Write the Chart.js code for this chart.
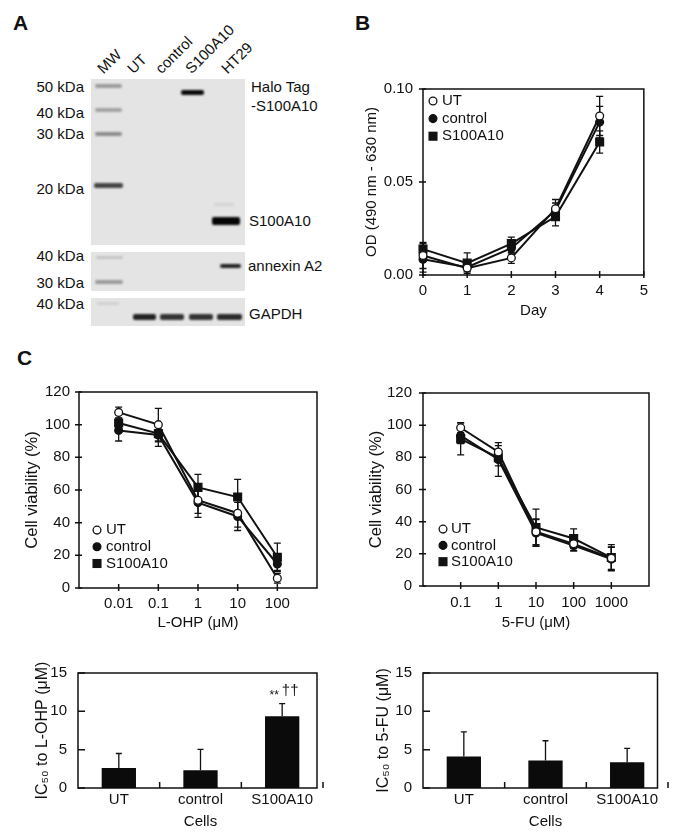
<!DOCTYPE html>
<html>
<head>
<meta charset="utf-8">
<script src="https://cdn.jsdelivr.net/npm/chart.js@4.4.1/dist/chart.umd.min.js"></script>
<style>
  body { margin: 0; background: #fff; }
  #fig { position: relative; width: 685px; height: 839px; overflow: hidden; font-family: 'Liberation Sans', Arial, sans-serif; color: #111; }
  #fig canvas { position: absolute; }
  .panel { position: absolute; font-size: 21px; line-height: 21px; font-weight: bold; }
  .lbl { position: absolute; font-size: 15px; line-height: 18px; white-space: nowrap; }
  .kda { position: absolute; left: 14px; width: 70px; text-align: right; font-size: 15px; line-height: 18px; white-space: nowrap; }
  .lane { position: absolute; font-size: 15px; line-height: 15px; white-space: nowrap; transform: rotate(-45deg); transform-origin: 0 100%; }
  .blot { position: absolute; left: 91px; width: 154px; background: #e4e4e4; }
  .band { position: absolute; border-radius: 2px; filter: blur(0.9px); }
</style>
</head>
<body>
<div id="fig">
  <div class="panel" style="left:13px;top:12px">A</div>
  <div class="panel" style="left:355px;top:12px">B</div>
  <div class="panel" style="left:17px;top:347px">C</div>

  <!-- western blot -->
  <div class="lane" style="left:105px;top:61px">MW</div>
  <div class="lane" style="left:135px;top:61px">UT</div>
  <div class="lane" style="left:163px;top:61px">control</div>
  <div class="lane" style="left:193px;top:61px">S100A10</div>
  <div class="lane" style="left:229px;top:61px">HT29</div>

  <div class="blot" style="top:79px;height:166px"></div>
  <div class="blot" style="top:252px;height:39px"></div>
  <div class="blot" style="top:298px;height:28px"></div>

  <div class="band" style="left:95px;top:84px;width:27px;height:4px;background:#9a9a9a"></div>
  <div class="band" style="left:95px;top:108px;width:27px;height:4px;background:#a2a2a2"></div>
  <div class="band" style="left:95px;top:132px;width:27px;height:4px;background:#8c8c8c"></div>
  <div class="band" style="left:94px;top:183px;width:29px;height:5px;background:#444"></div>
  <div class="band" style="left:181px;top:90px;width:23px;height:5px;background:#0a0a0a"></div>
  <div class="band" style="left:214px;top:203px;width:20px;height:3px;background:#d2d2d2"></div>
  <div class="band" style="left:212px;top:217px;width:28px;height:8px;background:#050505"></div>
  <div class="band" style="left:96px;top:256px;width:27px;height:3px;background:#c4c4c4"></div>
  <div class="band" style="left:95px;top:280px;width:28px;height:4px;background:#999"></div>
  <div class="band" style="left:220px;top:264px;width:21px;height:4px;background:#222"></div>
  <div class="band" style="left:97px;top:302px;width:22px;height:3px;background:#d0d0d0"></div>
  <div class="band" style="left:133px;top:314px;width:23px;height:6px;background:#222"></div>
  <div class="band" style="left:160px;top:314px;width:24px;height:6px;background:#333"></div>
  <div class="band" style="left:189px;top:314px;width:24px;height:6px;background:#333"></div>
  <div class="band" style="left:217px;top:314px;width:25px;height:6px;background:#2a2a2a"></div>

  <div class="kda" style="top:78px">50 kDa</div>
  <div class="kda" style="top:104px">40 kDa</div>
  <div class="kda" style="top:125px">30 kDa</div>
  <div class="kda" style="top:180px">20 kDa</div>
  <div class="kda" style="top:247px">40 kDa</div>
  <div class="kda" style="top:274px">30 kDa</div>
  <div class="kda" style="top:295px">40 kDa</div>

  <div class="lbl" style="left:251px;top:78px">Halo Tag</div>
  <div class="lbl" style="left:251px;top:97px">-S100A10</div>
  <div class="lbl" style="left:249px;top:212px">S100A10</div>
  <div class="lbl" style="left:248px;top:257px">annexin A2</div>
  <div class="lbl" style="left:249px;top:305px">GAPDH</div>

  <canvas id="chartB" width="295" height="255" style="left:360px;top:70px"></canvas>
  <canvas id="chartLohp" width="307" height="264" style="left:20px;top:374px"></canvas>
  <canvas id="chartFu" width="294" height="263" style="left:365px;top:373px"></canvas>
  <canvas id="barLohp" width="308" height="185" style="left:25px;top:653px"></canvas>
  <canvas id="barFu" width="308" height="185" style="left:370px;top:653px"></canvas>
</div>

<script>
// ---- data ----
const seriesNames = ['UT', 'control', 'S100A10'];

// B: growth (OD 490 nm - 630 nm)
const days = [0, 1, 2, 3, 4];
const dayTicks = [0, 1, 2, 3, 4, 5];
const dayLabels = ['0', '1', '2', '3', '4', '5'];
const odTicks = [0, 0.05, 0.1];
const odLabels = ['0.00', '0.05', '0.10'];
const odUT = [0.0105, 0.0037, 0.0092, 0.0356, 0.0855];
const odUTErr = [0.007, 0.002, 0.003, 0.005, 0.0105];
const odCtl = [0.0085, 0.0042, 0.0144, 0.0347, 0.0822];
const odCtlErr = [0.007, 0.002, 0.003, 0.004, 0.0085];
const odS100 = [0.0139, 0.0064, 0.0169, 0.0314, 0.0715];
const odS100Err = [0.003, 0.0055, 0.0035, 0.005, 0.006];

// C: viability
const viabTicks = [0, 20, 40, 60, 80, 100, 120];
const viabLabels = ['0', '20', '40', '60', '80', '100', '120'];

const lohpConc = [0.01, 0.1, 1, 10, 100];
const lohpLabels = ['0.01', '0.1', '1', '10', '100'];
const lohpUT = [107.5, 100, 53.7, 45.8, 6];
const lohpUTErr = [3.3, 10, 8, 8.5, 3];
const lohpCtl = [96.5, 93.7, 52.3, 43.8, 14.7];
const lohpCtlErr = [6.5, 7, 9, 8.6, 4];
const lohpS100 = [101, 94.5, 61.6, 55.7, 18.8];
const lohpS100Err = [3, 5, 8, 10.8, 8.7];

const fuConc = [0.1, 1, 10, 100, 1000];
const fuLabels = ['0.1', '1', '10', '100', '1000'];
const fuUT = [98.4, 83.3, 33.7, 26.2, 17.3];
const fuUTErr = [3, 4, 8, 4, 7];
const fuCtl = [93.5, 78.7, 33, 25.2, 16.7];
const fuCtlErr = [5, 10.5, 8.3, 3.5, 7.3];
const fuS100 = [91.5, 79.7, 36.4, 29.5, 17.7];
const fuS100Err = [10, 5, 11.4, 6, 8];

// C: IC50
const cells = ['UT', 'control', 'S100A10'];
const icTicks = [0, 5, 10, 15];
const icLabels = ['0', '5', '10', '15'];
const icLohp = [2.6, 2.3, 9.35];
const icLohpErr = [1.9, 2.75, 1.65];
const icFu = [4.12, 3.6, 3.36];
const icFuErr = [3.2, 2.56, 1.8];
const sigMarks = ['**', '††'];

// ---- look ----
const INK = '#111';
const FONT = "'Liberation Sans', Arial, sans-serif";
Chart.defaults.font.family = FONT;
Chart.defaults.font.size = 15;
Chart.defaults.color = INK;

const MARKERS = [
  { pointStyle: 'circle', pointRadius: 3.9, pointBackgroundColor: '#fff' },
  { pointStyle: 'circle', pointRadius: 3.9, pointBackgroundColor: INK },
  { pointStyle: 'rect', pointRadius: 5.5, pointBackgroundColor: INK },
];

function series(xs, ys, errs, i) {
  return Object.assign({
    label: seriesNames[i],
    data: xs.map((x, j) => ({ x: x, y: ys[j] })),
    errors: errs,
    borderColor: INK,
    borderWidth: 2,
    pointBorderColor: INK,
    pointBorderWidth: 1.3,
    tension: 0,
    clip: false,
  }, MARKERS[i]);
}

function xAxis(type, min, max, vals, labels, title, tickPad, titlePad) {
  const s = {
    type: type,
    afterFit: (sc) => { sc.height = 50; },
    grid: { display: false, drawTicks: false },
    border: { display: false },
    ticks: { padding: tickPad, maxRotation: 0, autoSkip: false, color: INK, font: { size: 15 } },
    title: { display: true, text: title, color: INK, font: { size: 15 }, padding: { top: 0, bottom: titlePad } },
  };
  if (vals) {
    s.min = min;
    s.max = max;
    s.offset = false;
    s.afterBuildTicks = (sc) => { sc.ticks = vals.map((v) => ({ value: v })); };
    s.ticks.callback = (v, i) => labels[i];
  }
  return s;
}

function yAxis(max, vals, labels, title, titleSize, width, titlePad, tickPad) {
  return {
    min: 0,
    max: max,
    afterBuildTicks: (sc) => { sc.ticks = vals.map((v) => ({ value: v })); },
    afterFit: (sc) => { sc.width = width; },
    grid: { display: false, drawTicks: false },
    border: { display: false },
    ticks: { callback: (v, i) => labels[i], padding: tickPad, color: INK, font: { size: 15 } },
    title: { display: true, text: title, color: INK, font: { size: titleSize }, padding: { top: titlePad, bottom: 0 } },
  };
}

// box round the plot plus tick marks
const framePlugin = {
  id: 'frame',
  beforeDatasetsDraw(chart, args, o) {
    const { ctx, chartArea: a, scales: { x, y } } = chart;
    ctx.save();
    ctx.strokeStyle = INK;
    ctx.lineWidth = 1.5;
    ctx.strokeRect(a.left, a.top, a.right - a.left - (o.inset || 0), a.bottom - a.top);
    ctx.beginPath();
    y.ticks.forEach((t) => {
      const py = y.getPixelForValue(t.value);
      ctx.moveTo(a.left - o.yOut, py);
      ctx.lineTo(a.left + o.yIn, py);
    });
    x.ticks.forEach((t, i) => {
      const px = o.between ? x.getPixelForValue(i + 0.5) : x.getPixelForValue(t.value);
      ctx.moveTo(px, a.bottom + o.xOut);
      ctx.lineTo(px, a.bottom - o.xIn);
    });
    ctx.stroke();
    ctx.restore();
  },
};

const errorBarPlugin = {
  id: 'errorBars',
  beforeDatasetsDraw(chart, args, o) {
    const { ctx, scales: { y } } = chart;
    ctx.save();
    ctx.strokeStyle = INK;
    ctx.lineWidth = 1.3;
    chart.data.datasets.forEach((ds, i) => {
      if (!ds.errors) return;
      chart.getDatasetMeta(i).data.forEach((el, j) => {
        const raw = ds.data[j];
        const v = typeof raw === 'object' ? raw.y : raw;
        const e = ds.errors[j];
        const top = y.getPixelForValue(v + e);
        const bot = y.getPixelForValue(o.upOnly ? v : v - e);
        ctx.beginPath();
        ctx.moveTo(el.x, top);
        ctx.lineTo(el.x, bot);
        ctx.moveTo(el.x - o.cap, top);
        ctx.lineTo(el.x + o.cap, top);
        if (!o.upOnly) {
          ctx.moveTo(el.x - o.cap, bot);
          ctx.lineTo(el.x + o.cap, bot);
        }
        ctx.stroke();
      });
    });
    ctx.restore();
  },
};

// legend drawn inside the plot area
const keyPlugin = {
  id: 'seriesKey',
  afterDraw(chart, args, o) {
    const { ctx, chartArea: a } = chart;
    const list = chart.data.datasets;
    ctx.save();
    ctx.font = '15px ' + FONT;
    ctx.textBaseline = 'middle';
    list.forEach((ds, i) => {
      const cy = o.top != null ? a.top + o.top + i * o.step : a.bottom - o.bottom - (list.length - 1 - i) * o.step;
      const cx = a.left + o.mark;
      ctx.fillStyle = ds.pointBackgroundColor;
      ctx.strokeStyle = INK;
      ctx.lineWidth = 1.3;
      if (ds.pointStyle === 'rect') {
        const h = ds.pointRadius * Math.SQRT1_2;
        ctx.fillRect(cx - h, cy - h, 2 * h, 2 * h);
        ctx.strokeRect(cx - h, cy - h, 2 * h, 2 * h);
      } else {
        ctx.beginPath();
        ctx.arc(cx, cy, ds.pointRadius, 0, Math.PI * 2);
        ctx.fill();
        ctx.stroke();
      }
      ctx.fillStyle = INK;
      ctx.fillText(ds.label, a.left + o.text, cy);
    });
    ctx.restore();
  },
};

const sigPlugin = {
  id: 'sig',
  afterDatasetsDraw(chart, args, o) {
    if (!o.marks) return;
    const { ctx, scales: { y } } = chart;
    const ds = chart.data.datasets[0];
    const el = chart.getDatasetMeta(0).data[o.index];
    const top = y.getPixelForValue(ds.data[o.index] + ds.errors[o.index]);
    ctx.save();
    ctx.fillStyle = INK;
    ctx.textAlign = 'center';
    ctx.textBaseline = 'alphabetic';
    o.marks.forEach((m, k) => {
      ctx.font = o.sizes[k] + 'px ' + FONT;
      ctx.fillText(m, el.x + o.dx[k], top + o.dy[k]);
    });
    ctx.restore();
  },
};

function lineChart(id, datasets, x, y, key) {
  return new Chart(document.getElementById(id), {
    type: 'line',
    data: { datasets: datasets },
    options: {
      responsive: false,
      animation: false,
      devicePixelRatio: 1,
      layout: { padding: { top: 10, right: 10, left: 0, bottom: 0 } },
      scales: { x: x, y: y },
      plugins: {
        legend: { display: false },
        tooltip: { enabled: false },
        frame: { yOut: 4, yIn: 3, xOut: 3, xIn: 4 },
        errorBars: { cap: 3.5 },
        seriesKey: key,
      },
    },
    plugins: [framePlugin, errorBarPlugin, keyPlugin],
  });
}

function barChart(id, values, errs, yTitle, titlePad, inset, sig) {
  return new Chart(document.getElementById(id), {
    type: 'bar',
    data: {
      labels: cells,
      datasets: [{
        data: values,
        errors: errs,
        backgroundColor: '#0b0b0b',
        borderWidth: 0,
        barPercentage: 0.42,
        categoryPercentage: 1,
      }],
    },
    options: {
      responsive: false,
      animation: false,
      devicePixelRatio: 1,
      layout: { padding: { top: 10, right: 10, left: 0, bottom: 0 } },
      scales: {
        x: xAxis('category', null, null, null, null, 'Cells', 3, 7),
        y: yAxis(15, icTicks, icLabels, yTitle, 16, 53, titlePad, 11),
      },
      plugins: {
        legend: { display: false },
        tooltip: { enabled: false },
        frame: { yOut: 0, yIn: 7, xOut: 0, xIn: 6, between: true, inset: inset },
        errorBars: { cap: 3, upOnly: true },
        sig: sig || {},
      },
    },
    plugins: [framePlugin, errorBarPlugin, sigPlugin],
  });
}

lineChart('chartB',
  [series(days, odUT, odUTErr, 0), series(days, odCtl, odCtlErr, 1), series(days, odS100, odS100Err, 2)],
  xAxis('linear', 0, 5, dayTicks, dayLabels, 'Day', 7, 5),
  yAxis(0.1, odTicks, odLabels, 'OD (490 nm - 630 nm)', 15, 63, 3, 10),
  { mark: 10, text: 19, top: 12, step: 17.6 });

lineChart('chartLohp',
  [series(lohpConc, lohpUT, lohpUTErr, 0), series(lohpConc, lohpCtl, lohpCtlErr, 1), series(lohpConc, lohpS100, lohpS100Err, 2)],
  xAxis('logarithmic', 0.001, 1000, lohpConc, lohpLabels, 'L-OHP (μM)', 7, 6),
  yAxis(120, viabTicks, viabLabels, 'Cell viability (%)', 16.5, 59, 3, 9),
  { mark: 18, text: 27, bottom: 24.5, step: 16.7 });

lineChart('chartFu',
  [series(fuConc, fuUT, fuUTErr, 0), series(fuConc, fuCtl, fuCtlErr, 1), series(fuConc, fuS100, fuS100Err, 2)],
  xAxis('logarithmic', 0.01, 10000, fuConc, fuLabels, '5-FU (μM)', 8, 4),
  yAxis(120, viabTicks, viabLabels, 'Cell viability (%)', 16.5, 58, 2, 11),
  { mark: 20, text: 28, bottom: 24.3, step: 16.3 });

barChart('barLohp', icLohp, icLohpErr, 'IC₅₀ to L-OHP (μM)', 8, 6,
  { index: 2, marks: sigMarks, sizes: [12, 15], dx: [-8, 8], dy: [-5, -9] });

barChart('barFu', icFu, icFuErr, 'IC₅₀ to 5-FU (μM)', 3.5, 10.5);
</script>
</body>
</html>
